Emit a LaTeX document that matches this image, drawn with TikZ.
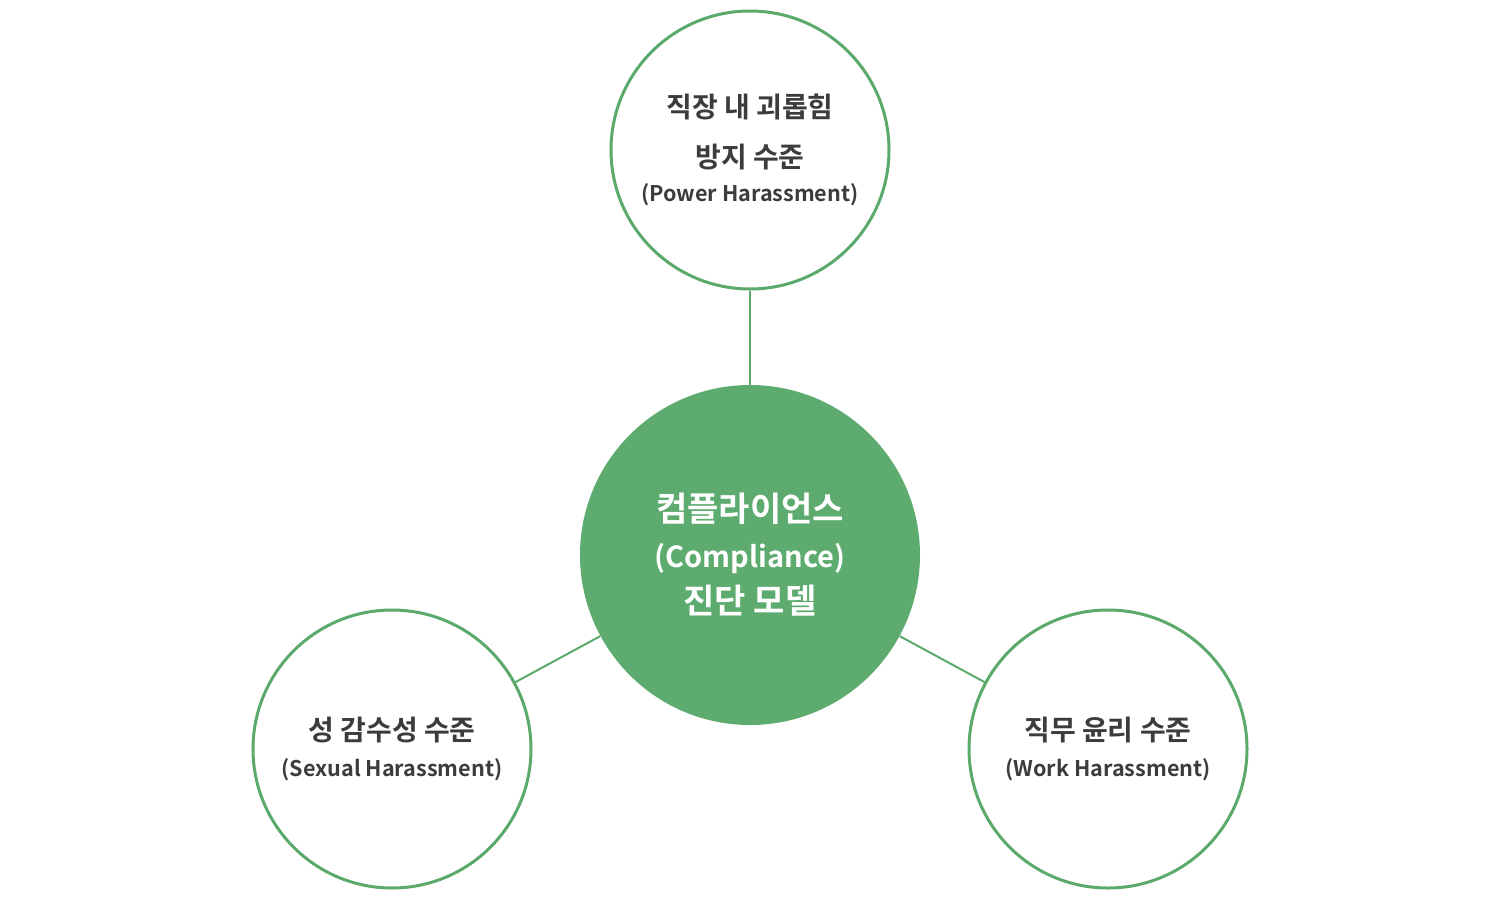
\documentclass[tikz,border=0pt]{standalone}
\usepackage{fontspec}
\setmainfont{Noto Sans CJK KR}[BoldFont={Noto Sans CJK KR Bold}]
\definecolor{gfill}{HTML}{5DAB6F}
\definecolor{gline}{HTML}{5BAA6B}
\definecolor{txt}{HTML}{3C3C3C}
\newcommand{\kfont}{\fontsize{14}{16}\selectfont}
\newcommand{\efont}{\fontsize{10.8}{16}\selectfont}
\begin{document}
\begin{tikzpicture}[x=0.5pt,y=-0.5pt,
  outer/.style={circle,draw=gline,line width=1.5pt,fill=white,minimum size=139pt,inner sep=0pt,align=center,text=txt,font=\bfseries},
  hub/.style={circle,fill=gfill,minimum size=170pt,inner sep=0pt,align=center,text=white,font=\bfseries},
  link/.style={draw=gline,line width=1pt},
]
\useasboundingbox (0,0) rectangle (1500,900);
\node[hub] (c) at (750,555) {\fontsize{17}{18}\selectfont 컴플라이언스\\[8pt]\fontsize{14.5}{18}\selectfont (Compliance)\\[5pt]\fontsize{17}{18}\selectfont 진단 모델};
\node[outer] (t) at (750,150) {\kfont 직장 내 괴롭힘\\[11pt]\kfont 방지 수준\\[5pt]\efont (Power Harassment)};
\node[outer] (l) at (392,749) {\kfont 성 감수성 수준\\[6pt]\efont (Sexual Harassment)};
\node[outer] (r) at (1108,749) {\kfont 직무 윤리 수준\\[6pt]\efont (Work Harassment)};
\draw[link] (c) -- (t);
\draw[link] (c) -- (l);
\draw[link] (c) -- (r);
\end{tikzpicture}
\end{document}
